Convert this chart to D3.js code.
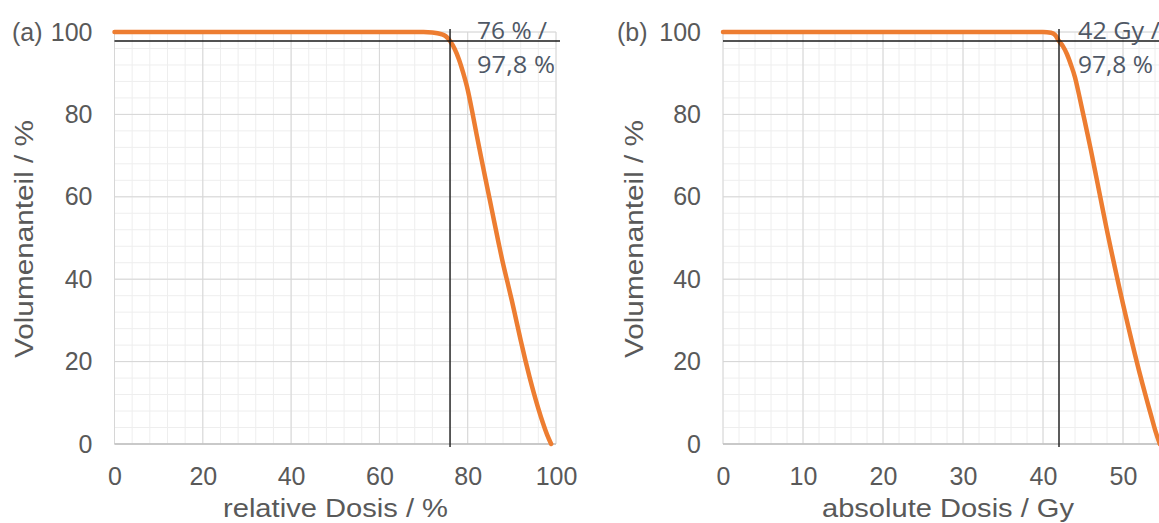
<!DOCTYPE html>
<html>
<head>
<meta charset="utf-8">
<script src="https://cdn.jsdelivr.net/npm/d3@7"></script>
<style>
  html, body { margin: 0; padding: 0; background: #ffffff; }
  svg { display: block; }
</style>
</head>
<body>
<svg id="chart" width="1159" height="523"></svg>
<script>
// ---------- data ----------
const relDose   = [0, 70, 72, 74, 75, 76, 77, 78, 79, 80, 81, 82, 83, 84, 85, 86, 87, 88, 89, 90, 91, 92, 93, 94, 95, 96, 97, 98, 98.9];
const relVolume = [100, 100, 99.9, 99.5, 99, 97.8, 96, 93.4, 90, 86, 80.8, 75.2, 69.8, 64.5, 59.3, 54, 48.8, 43.8, 39.3, 34.8, 30, 25.2, 20.6, 16.3, 12.3, 8.6, 5.2, 2.2, 0];

const absDose   = [0, 40, 41, 41.5, 42, 42.5, 43, 43.5, 44, 44.5, 45, 45.5, 46, 46.5, 47, 47.5, 48, 48.5, 49, 49.5, 50, 50.5, 51, 51.5, 52, 52.5, 53, 53.5, 54, 54.6];
const absVolume = [100, 100, 99.8, 99.3, 97.8, 96.5, 94.6, 92, 89, 84.8, 80.3, 75.8, 71.2, 66.4, 61.5, 56.6, 51.8, 47.2, 42.7, 38.3, 34, 29.8, 25.7, 21.7, 17.8, 14.1, 10.5, 7, 3.5, 0];

const yTicks = [0, 20, 40, 60, 80, 100];
const relTicks = [0, 20, 40, 60, 80, 100];
const absTicks = [0, 10, 20, 30, 40, 50];

const relMarker = { dose: 76, volume: 97.8, line1: "76 % /", line2: "97,8 %" };
const absMarker = { dose: 42, volume: 97.8, line1: "42 Gy /", line2: "97,8 %" };

const panels = [
  { tag: "(a)", dose: relDose, vol: relVolume, xTicks: relTicks, xDomain: [0, 100], xRange: [114.5, 556],
    xTitle: "relative Dosis / %", xTitleX: 335.5, xTitleLen: 225, yTitleX: 33, tagX: 12, marker: relMarker,
    hEnd: 560, annX: 477, annLen1: 70, annLen2: 78 },
  { tag: "(b)", dose: absDose, vol: absVolume, xTicks: absTicks, xDomain: [0, 60], xRange: [723, 1203],
    xTitle: "absolute Dosis / Gy", xTitleX: 948, xTitleLen: 252, yTitleX: 643, tagX: 617, marker: absMarker,
    hEnd: 1203, annX: 1078, annLen1: 82, annLen2: 75 }
];

// ---------- drawing ----------
const svg = d3.select("#chart");
const FONT = "'Liberation Sans', Arial, sans-serif";
const TXT = "#595959";
const y = d3.scaleLinear().domain([0, 100]).range([444, 32]);

panels.forEach(p => {
  const x = d3.scaleLinear().domain(p.xDomain).range(p.xRange);
  const g = svg.append("g");

  const xStep = p.xTicks[1] - p.xTicks[0];
  const yStep = yTicks[1] - yTicks[0];
  const xMajor = d3.range(p.xDomain[0], p.xDomain[1] + 1e-9, xStep);
  const xMinor = d3.range(p.xDomain[0], p.xDomain[1] + 1e-9, xStep / 5);
  const yMinor = d3.range(0, 100 + 1e-9, yStep / 5);

  // minor grid
  g.append("g").selectAll("line").data(xMinor).join("line")
    .attr("x1", d => x(d)).attr("x2", d => x(d)).attr("y1", y(100)).attr("y2", y(0))
    .attr("stroke", "#eeeeee").attr("stroke-width", 1);
  g.append("g").selectAll("line").data(yMinor).join("line")
    .attr("x1", x(p.xDomain[0])).attr("x2", x(p.xDomain[1])).attr("y1", d => y(d)).attr("y2", d => y(d))
    .attr("stroke", "#eeeeee").attr("stroke-width", 1);
  // major grid
  g.append("g").selectAll("line").data(xMajor).join("line")
    .attr("x1", d => x(d)).attr("x2", d => x(d)).attr("y1", y(100)).attr("y2", y(0))
    .attr("stroke", "#d6d6d6").attr("stroke-width", 1);
  g.append("g").selectAll("line").data(yTicks).join("line")
    .attr("x1", x(p.xDomain[0])).attr("x2", x(p.xDomain[1])).attr("y1", d => y(d)).attr("y2", d => y(d))
    .attr("stroke", "#d6d6d6").attr("stroke-width", 1);
  // bottom axis line
  g.append("line")
    .attr("x1", x(p.xDomain[0])).attr("x2", x(p.xDomain[1])).attr("y1", y(0)).attr("y2", y(0))
    .attr("stroke", "#bfbfbf").attr("stroke-width", 1.3);

  // axes labels
  const ax = g.append("g").attr("transform", `translate(0,${y(0)})`)
    .call(d3.axisBottom(x).tickValues(p.xTicks).tickSize(0).tickPadding(23));
  ax.select(".domain").remove();
  ax.selectAll("text").attr("font-family", FONT).attr("font-size", 25).attr("fill", TXT);

  const ay = g.append("g").attr("transform", `translate(${x(p.xDomain[0])},0)`)
    .call(d3.axisLeft(y).tickValues(yTicks).tickSize(0).tickPadding(22));
  ay.select(".domain").remove();
  ay.selectAll("text").attr("font-family", FONT).attr("font-size", 25).attr("fill", TXT);

  // titles
  g.append("text").attr("x", p.xTitleX).attr("y", 517).attr("text-anchor", "middle")
    .attr("font-family", FONT).attr("font-size", 25).attr("fill", TXT)
    .attr("textLength", p.xTitleLen).attr("lengthAdjust", "spacingAndGlyphs")
    .text(p.xTitle);
  g.append("text").attr("transform", `translate(${p.yTitleX},239) rotate(-90)`).attr("text-anchor", "middle")
    .attr("font-family", FONT).attr("font-size", 25).attr("fill", TXT)
    .attr("textLength", 238).attr("lengthAdjust", "spacingAndGlyphs")
    .text("Volumenanteil  / %");
  g.append("text").attr("x", p.tagX).attr("y", 41)
    .attr("font-family", FONT).attr("font-size", 25).attr("fill", "#5a5a5a")
    .text(p.tag);

  // curve
  const pts = p.dose.map((d, i) => [d, p.vol[i]]);
  g.append("path").datum(pts)
    .attr("d", d3.line().x(d => x(d[0])).y(d => y(d[1])).curve(d3.curveMonotoneX))
    .attr("fill", "none").attr("stroke", "#ED7D31").attr("stroke-width", 4.5)
    .attr("stroke-linejoin", "round").attr("stroke-linecap", "round");

  // marker lines
  const m = p.marker;
  g.append("line").attr("x1", x(p.xDomain[0])).attr("x2", p.hEnd)
    .attr("y1", y(m.volume)).attr("y2", y(m.volume))
    .attr("stroke", "#1a1a1a").attr("stroke-width", 1.4);
  g.append("line").attr("x1", x(m.dose)).attr("x2", x(m.dose))
    .attr("y1", 29).attr("y2", 447)
    .attr("stroke", "#1a1a1a").attr("stroke-width", 1.4);

  // annotation
  const AF = "'Open Sans', 'Noto Sans', sans-serif";
  g.append("text").attr("x", p.annX).attr("y", 39)
    .attr("font-family", AF).attr("font-size", 23).attr("fill", "#4f5866")
    .attr("textLength", p.annLen1).attr("lengthAdjust", "spacingAndGlyphs")
    .text(m.line1);
  g.append("text").attr("x", p.annX).attr("y", 73)
    .attr("font-family", AF).attr("font-size", 23).attr("fill", "#4f5866")
    .attr("textLength", p.annLen2).attr("lengthAdjust", "spacingAndGlyphs")
    .text(m.line2);
});
</script>
</body>
</html>
